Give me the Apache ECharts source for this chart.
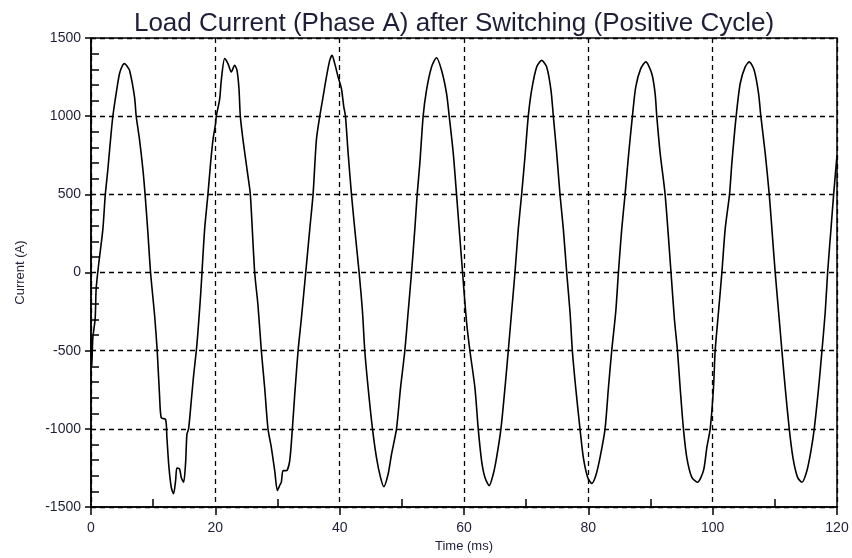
<!DOCTYPE html>
<html>
<head>
<meta charset="utf-8">
<title>Load Current (Phase A)</title>
<script src="https://cdn.jsdelivr.net/npm/echarts@6/dist/echarts.min.js"></script>
<style>
  html, body { margin: 0; padding: 0; background: #fff; }
  #chart { width: 852px; height: 558px; }
</style>
</head>
<body>
<div id="chart"></div>
<script>
// Phase A load current samples: time (ms) and current (A)
const timeMs = [
  0.00, 0.13, 0.29, 0.67, 0.83, 1.21, 1.91, 2.28, 2.71, 3.14, 3.52, 4.05, 4.59, 5.10, 5.39, 5.80, 6.20, 7.00, 7.27, 7.81,
  8.35, 8.72, 9.15, 9.58, 10.23, 10.65, 11.03, 11.30, 12.00, 12.21, 12.53, 12.91, 13.28, 13.61, 13.82, 14.25, 14.52, 14.90, 15.22, 15.43,
  15.70, 16.13, 16.50, 16.94, 17.20, 17.63, 17.85, 18.28, 18.81, 19.24, 19.62, 20.05, 20.15, 20.69, 20.96, 21.50, 22.03, 22.57, 23.10, 23.48,
  23.80, 24.02, 24.45, 25.25, 25.63, 26.33, 26.86, 27.40, 27.94, 28.47, 29.01, 29.55, 29.98, 30.35, 30.62, 30.89, 31.43, 31.96, 32.39, 32.77,
  33.31, 33.84, 34.54, 35.19, 35.72, 36.26, 36.80, 37.33, 37.87, 38.40, 38.78, 39.21, 39.75, 40.28, 40.66, 40.93, 41.36, 41.90, 42.43, 43.13,
  43.67, 44.04, 44.58, 45.28, 45.92, 46.57, 47.10, 47.80, 48.34, 49.14, 49.79, 50.48, 51.02, 51.56, 52.09, 52.47, 52.90, 53.43, 53.97, 54.78,
  55.58, 56.39, 57.19, 57.62, 58.27, 58.80, 59.77, 60.41, 60.95, 61.76, 62.29, 62.83, 63.37, 64.06, 64.71, 65.24, 65.94, 66.59, 67.12, 67.66,
  68.20, 68.73, 69.27, 69.81, 70.34, 70.88, 71.69, 72.49, 73.30, 73.99, 74.37, 74.91, 75.44, 75.98, 76.52, 77.05, 77.43, 77.97, 78.66, 79.20,
  79.90, 80.54, 81.19, 81.88, 82.69, 83.23, 83.76, 84.41, 84.84, 85.37, 85.91, 86.45, 87.09, 87.63, 88.43, 89.24, 90.20, 90.74, 91.01, 91.55,
  92.35, 93.30, 93.85, 94.34, 94.77, 95.30, 95.84, 96.65, 97.56, 98.52, 99.06, 99.60, 100.13, 100.40, 100.94, 101.48, 102.01, 102.71, 103.09, 103.78,
  104.43, 105.23, 105.88, 106.68, 107.38, 107.75, 108.45, 109.10, 109.53, 110.06, 110.60, 111.14, 111.67, 112.32, 112.91, 113.66, 114.36, 115.16, 115.81, 116.34,
  117.04, 117.58, 118.11, 118.49, 119.03, 119.46, 120.00
];
const currentA = [
  -430, -600, -420, -295, -103, 45, 278, 489, 659, 849, 1001, 1146, 1273, 1326, 1336, 1320, 1294, 1124, 1000, 849,
  659, 489, 257, 0, -273, -500, -790, -929, -939, -1055, -1242, -1373, -1415, -1331, -1250, -1257, -1310, -1341, -1214, -1034,
  -1000, -820, -660, -500, -380, -146, 0, 278, 500, 701, 849, 955, 1000, 1107, 1230, 1368, 1336, 1283, 1326, 1294,
  1177, 1000, 849, 616, 500, 0, -209, -500, -738, -1000, -1119, -1267, -1394, -1362, -1340, -1267, -1267, -1204, -1000, -781,
  -500, -294, 0, 278, 500, 849, 1000, 1124, 1251, 1357, 1389, 1336, 1251, 1177, 1061, 1000, 764, 500, 278, 0,
  -251, -500, -738, -1000, -1183, -1310, -1369, -1288, -1162, -1000, -738, -500, -251, 0, 278, 500, 701, 1000, 1167, 1315,
  1374, 1294, 1146, 1000, 764, 500, 0, -315, -500, -738, -1000, -1204, -1310, -1362, -1288, -1183, -1000, -738, -500, -251,
  0, 278, 500, 743, 1000, 1167, 1315, 1357, 1315, 1167, 1000, 764, 500, 278, 0, -251, -500, -738, -1000, -1183,
  -1310, -1348, -1299, -1183, -1000, -738, -500, -251, 0, 278, 500, 743, 1000, 1188, 1304, 1347, 1273, 1146, 1000, 764,
  500, 0, -300, -500, -738, -1000, -1183, -1310, -1341, -1267, -1119, -1000, -738, -500, -251, 0, 278, 500, 701, 1000,
  1209, 1315, 1347, 1294, 1146, 1000, 764, 500, 278, 0, -251, -500, -738, -1000, -1183, -1310, -1341, -1267, -1140, -1000,
  -738, -500, -251, 0, 278, 500, 750
];

// Axis ranges and tick steps
const timeRange = [0, 120];
const timeStep = 20;
const currentRange = [-1500, 1500];
const currentStep = 500;

const seriesData = timeMs.map((t, i) => [t, currentA[i]]);

const textColor = '#1e1e38';
const fontFamily = '"Liberation Sans", Arial, sans-serif';
const plainNumber = (v) => String(v);

const chart = echarts.init(document.getElementById('chart'), null, { renderer: 'canvas' });

chart.setOption({
  animation: false,
  backgroundColor: '#ffffff',
  title: {
    text: 'Load Current (Phase A) after Switching (Positive Cycle)',
    left: 449,
    top: 6,
    textAlign: 'center',
    textStyle: { fontFamily, fontSize: 26, fontWeight: 'normal', color: textColor }
  },
  grid: {
    left: 91, right: 15, top: 38, bottom: 48,
    show: true, borderColor: '#000', borderWidth: 1.5, backgroundColor: '#fff'
  },
  xAxis: [
    {
      type: 'value', min: timeRange[0], max: timeRange[1], interval: timeStep,
      name: 'Time (ms)', nameLocation: 'middle', nameGap: 32,
      nameTextStyle: { fontFamily, fontSize: 13, color: textColor },
      axisLine: { show: true, onZero: false, lineStyle: { color: '#000', width: 1.5 } },
      axisTick: { show: true, length: 8, lineStyle: { color: '#000', width: 1.5 } },
      axisLabel: { fontFamily, fontSize: 14, color: textColor, margin: 14, formatter: plainNumber },
      splitLine: { show: true, lineStyle: { color: '#000', type: [5, 4], width: 1.3 } }
    },
    {
      type: 'value', min: timeRange[0], max: timeRange[1], interval: timeStep,
      position: 'bottom',
      axisLine: { show: false, onZero: false },
      axisTick: { show: false, inside: true },
      minorTick: { show: true, splitNumber: 2, length: 8, lineStyle: { color: '#000', width: 1.5 } },
      axisLabel: { show: false },
      splitLine: { show: false }
    }
  ],
  yAxis: [
    {
      type: 'value', min: currentRange[0], max: currentRange[1], interval: currentStep,
      name: 'Current (A)', nameLocation: 'middle', nameGap: 64, nameRotate: 90,
      nameTextStyle: { fontFamily, fontSize: 13, color: textColor },
      axisLine: { show: true, onZero: false, lineStyle: { color: '#000', width: 1.5 } },
      axisTick: { show: true, length: 6, lineStyle: { color: '#000', width: 1.5 } },
      axisLabel: { fontFamily, fontSize: 14, color: textColor, margin: 10, formatter: plainNumber },
      splitLine: { show: true, lineStyle: { color: '#000', type: [5, 4], width: 1.3 } }
    },
    {
      type: 'value', min: currentRange[0], max: currentRange[1], interval: currentStep,
      position: 'left',
      axisLine: { show: false, onZero: false },
      axisTick: { show: false, inside: true },
      minorTick: { show: true, splitNumber: 5, length: 8, lineStyle: { color: '#000', width: 1.5 } },
      axisLabel: { show: false },
      splitLine: { show: false }
    }
  ],
  series: [
    {
      type: 'line',
      xAxisIndex: 0,
      yAxisIndex: 0,
      data: seriesData,
      showSymbol: false,
      smooth: 0.25,
      lineStyle: { color: '#000', width: 1.6 },
      z: 5
    }
  ]
});
</script>
</body>
</html>
